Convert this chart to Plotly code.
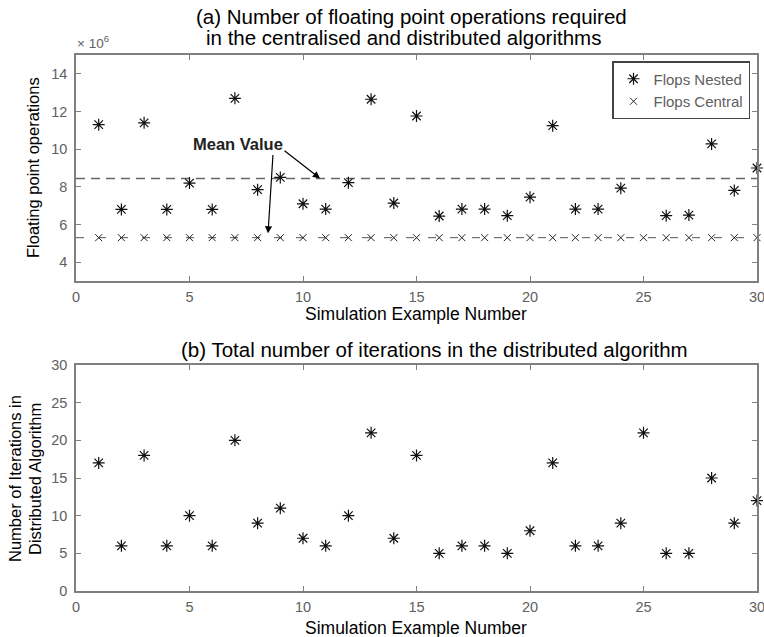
import numpy as np
import plotly.graph_objects as go

examples = list(range(1, 31))
flops_nested = [11.3, 6.8, 11.4, 6.8, 8.2, 6.8, 12.7, 7.85, 8.5, 7.1,
                6.82, 8.22, 12.65, 7.14, 11.76, 6.45, 6.82, 6.82, 6.47, 7.45,
                11.25, 6.82, 6.82, 7.93, 12.4, 6.47, 6.5, 10.28, 7.81, 9.0]
flops_central = [5.3] * 30
iterations = [17, 6, 18, 6, 10, 6, 20, 9, 11, 7,
              6, 10, 21, 7, 18, 5, 6, 6, 5, 8,
              17, 6, 6, 9, 21, 5, 5, 15, 9, 12]

mean_nested = float(np.mean(flops_nested))
mean_central = float(np.mean(flops_central))

FONT = "Liberation Sans, Arial, sans-serif"
GRAY = "#606060"
AXC = "#808080"

fig = go.Figure()

fig.add_trace(go.Scatter(x=[0, 30], y=[mean_nested, mean_nested], mode="lines",
                         line=dict(color="#666666", width=1.5, dash="9px,6px"),
                         showlegend=False, xaxis="x", yaxis="y", hoverinfo="skip"))
fig.add_trace(go.Scatter(x=[0, 30], y=[mean_central, mean_central], mode="lines",
                         line=dict(color="#555555", width=1, dash="8px,14px"),
                         showlegend=False, xaxis="x", yaxis="y", hoverinfo="skip"))
fig.add_trace(go.Scatter(x=examples, y=flops_nested, mode="markers", name="Flops Nested",
                         cliponaxis=False,
                         marker=dict(symbol="asterisk-open", size=10, color="#111111",
                                     line=dict(color="#111111", width=1.2)),
                         xaxis="x", yaxis="y"))
fig.add_trace(go.Scatter(x=examples, y=flops_central, mode="markers", name="Flops Central",
                         cliponaxis=False,
                         marker=dict(symbol="x-thin-open", size=7, color="#222222",
                                     line=dict(color="#222222", width=1)),
                         xaxis="x", yaxis="y"))
fig.add_trace(go.Scatter(x=examples, y=iterations, mode="markers", name="Iterations",
                         cliponaxis=False,
                         marker=dict(symbol="asterisk-open", size=10, color="#111111",
                                     line=dict(color="#111111", width=1.2)),
                         showlegend=False, xaxis="x2", yaxis="y2"))

W, H = 764, 637
def px_x(p):
    return p / W
def px_y(p):
    return 1 - p / H

axis_common = dict(showline=True, linecolor=AXC, linewidth=1.5, mirror="ticks",
                   ticks="inside", ticklen=5, tickcolor=AXC, showgrid=False,
                   zeroline=False, automargin=False, ticklabeloverflow="allow",
                   tickfont=dict(family=FONT, size=14.5, color=GRAY))

fig.update_layout(
    width=W, height=H,
    margin=dict(l=0, r=0, t=0, b=0),
    paper_bgcolor="white", plot_bgcolor="white",
    font=dict(family=FONT, color="black"),
    xaxis=dict(domain=[px_x(76), px_x(757)], range=[0, 30], dtick=5, anchor="y",
               ticklabelstandoff=2, **axis_common),
    yaxis=dict(domain=[px_y(281), px_y(55)], range=[3, 15], tickvals=[4, 6, 8, 10, 12, 14],
               anchor="x", ticklabelstandoff=4, **axis_common),
    xaxis2=dict(domain=[px_x(76), px_x(757)], range=[0, 30], dtick=5, anchor="y2",
                ticklabelstandoff=2, **axis_common),
    yaxis2=dict(domain=[px_y(591), px_y(365)], range=[0, 30], dtick=5, anchor="x2",
                ticklabelstandoff=4, **axis_common),
    legend=dict(x=px_x(750), xanchor="right", y=px_y(61), yanchor="top",
                bordercolor="#444444", borderwidth=1.5, bgcolor="white",
                font=dict(family=FONT, size=15, color=GRAY),
                tracegroupgap=0, itemwidth=30),
    showlegend=True,
)

def label(text, x, y, size, angle=0, color="black", bold=False):
    return dict(text=("<b>%s</b>" % text) if bold else text, x=px_x(x), y=px_y(y),
                xref="paper", yref="paper", xanchor="center", yanchor="middle",
                showarrow=False, textangle=angle,
                font=dict(size=size, family=FONT, color=color))

annotations = [
    label("(a) Number of floating point operations required", 411, 17, 20.5),
    label("in the centralised and distributed algorithms", 403, 37, 20.5),
    label("(b) Total number of iterations in the distributed algorithm", 434, 349, 20.5),
    label("Simulation Example Number", 416, 314, 17.5),
    label("Simulation Example Number", 416, 628, 17.5),
    label("Floating point operations", 33, 168, 16.5, angle=-90),
    label("Number of Iterations in", 15, 479, 16.5, angle=-90),
    label("Distributed Algorithm", 35, 479, 16.5, angle=-90),
    dict(text="× 10<sup>6</sup>", x=px_x(75), y=px_y(42), xref="paper", yref="paper",
         xanchor="left", yanchor="middle", showarrow=False,
         font=dict(size=13.5, family=FONT, color=GRAY)),
    dict(text="<b>Mean Value</b>", x=7.14, y=10.3, xref="x", yref="y", xanchor="center",
         yanchor="middle", showarrow=False, font=dict(size=16.5, family=FONT, color="#222222")),
    dict(x=10.75, y=mean_nested, ax=9.12, ay=9.98, xref="x", yref="y", axref="x", ayref="y",
         showarrow=True, arrowhead=2, arrowsize=1.2, arrowwidth=1.2, arrowcolor="black", text=""),
    dict(x=8.46, y=5.53, ax=8.68, ay=9.77, xref="x", yref="y", axref="x", ayref="y",
         showarrow=True, arrowhead=2, arrowsize=1.2, arrowwidth=1.2, arrowcolor="black", text=""),
]
fig.update_layout(annotations=annotations)

fig.write_html("out.html", config={"displayModeBar": False},
               post_script="document.body.style.margin='0';document.body.style.overflow='hidden';")
